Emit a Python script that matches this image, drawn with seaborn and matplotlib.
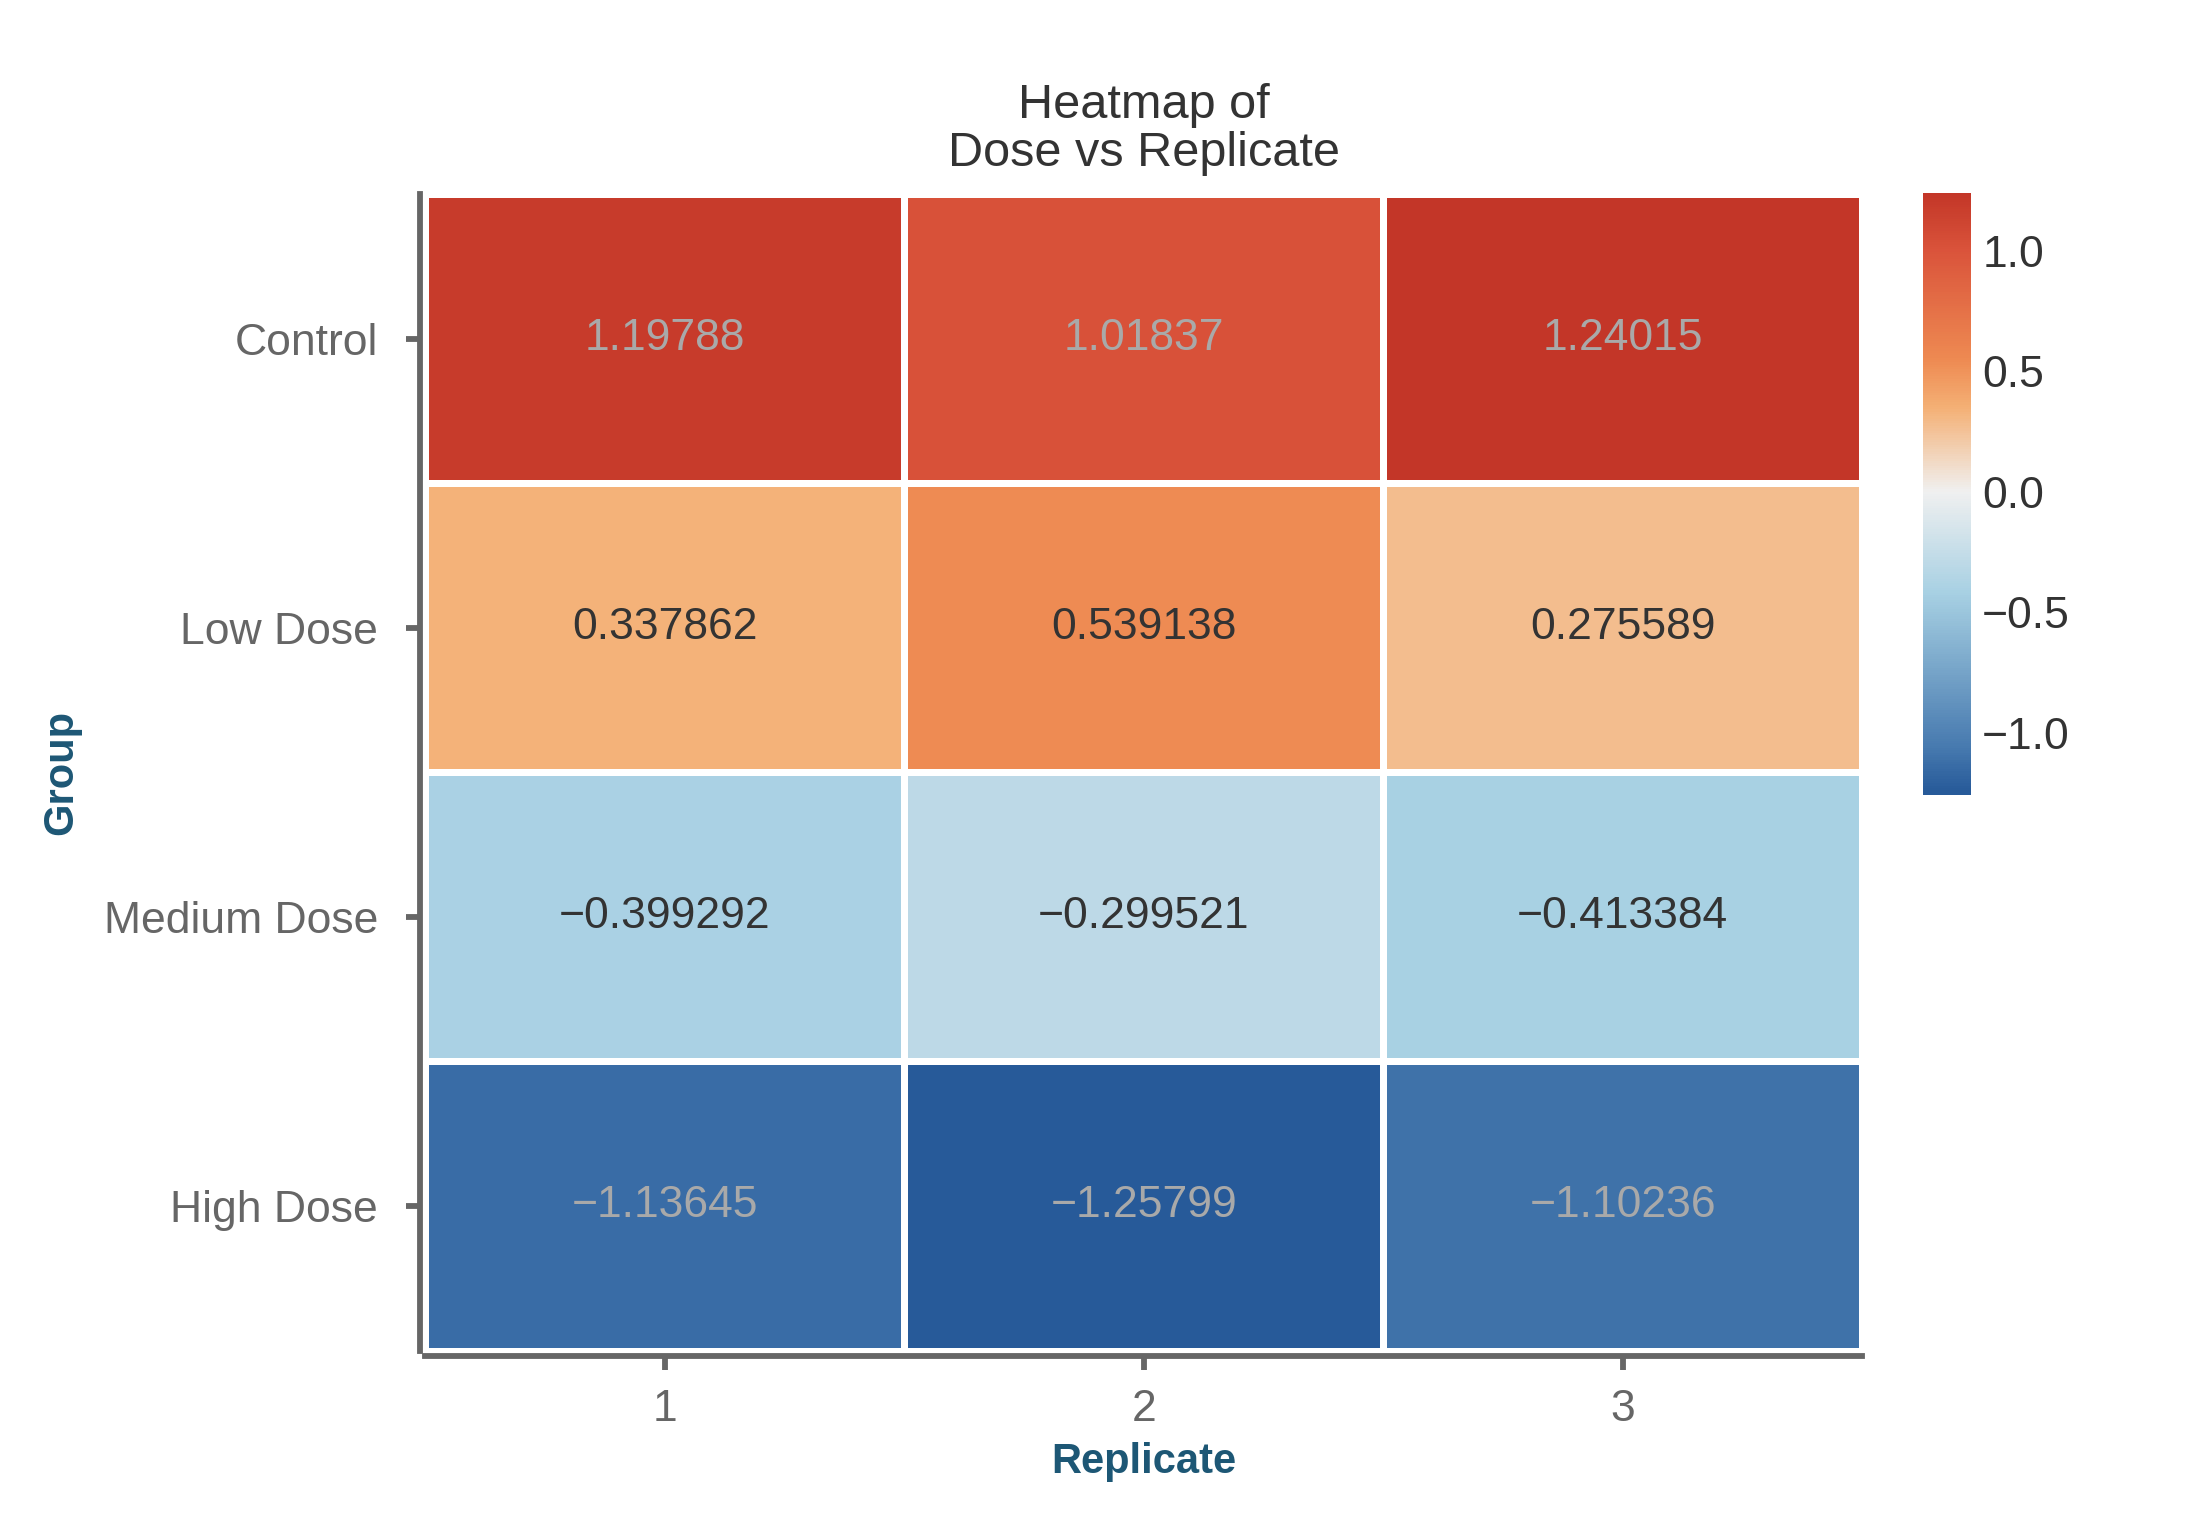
import matplotlib
matplotlib.use("Agg")
import matplotlib.pyplot as plt
from matplotlib.colors import LinearSegmentedColormap
import seaborn as sns
import pandas as pd

# data
groups = ["Control", "Low Dose", "Medium Dose", "High Dose"]
replicates = [1, 2, 3]
control = [1.19788, 1.01837, 1.24015]
low_dose = [0.337862, 0.539138, 0.275589]
medium_dose = [-0.399292, -0.299521, -0.413384]
high_dose = [-1.13645, -1.25799, -1.10236]

sns.set_theme(style="ticks")
plt.rcParams["font.family"] = ["Liberation Sans", "DejaVu Sans"]

df = pd.DataFrame(
    [control, low_dose, medium_dose, high_dose],
    index=pd.Index(groups, name="Group"),
    columns=pd.Index(replicates, name="Replicate"),
)

cmap = LinearSegmentedColormap.from_list("dose", [
    (0.0, "#275a99"), (0.07, "#4578ae"), (0.33, "#a7d0e3"),
    (0.5, "#f0f0f0"), (0.64, "#f4b075"), (0.72, "#ee8a52"),
    (0.9, "#da543b"), (1.0, "#c23527"),
])

fig = plt.figure(figsize=(10.96, 7.69), dpi=200)
ax = fig.add_axes([0.1941, 0.1219, 0.6554, 0.752])
cax = fig.add_axes([0.8773, 0.4831, 0.0219, 0.3914])

sns.heatmap(df, ax=ax, cbar_ax=cax, cmap=cmap, center=0, annot=True, fmt="g",
            linewidths=2.5, linecolor="white", annot_kws={"size": 16})

# annotation colours: light grey on saturated cells, dark otherwise
vals = df.values.ravel()
for txt, v in zip(ax.texts, vals):
    txt.set_text(txt.get_text().replace("-", "\u2212"))
    txt.set_color("#a9a9a9" if abs(v) > 0.8 else "#333333")

for side in ["left", "bottom"]:
    ax.spines[side].set_visible(True)
    ax.spines[side].set_position(("outward", 2))
    ax.spines[side].set_color("#666666")
    ax.spines[side].set_linewidth(2.1)
ax.tick_params(left=True, bottom=True, length=5, width=2.1, color="#666666",
               labelcolor="#666666", labelsize=16)
ax.tick_params(axis="y", pad=10, rotation=0)
ax.tick_params(axis="x", pad=7)

ax.set_xlabel("Replicate", fontsize=15, fontweight="bold", color="#1d5775", labelpad=4)
ax.set_ylabel("Group", fontsize=15, fontweight="bold", color="#1d5775", labelpad=8)
ax.set_title("Heatmap of\nDose vs Replicate", fontsize=17.5, color="#333333",
             pad=10, linespacing=1.1)

cax.tick_params(length=0, labelsize=16, labelcolor="#333333", pad=4)
for s in cax.spines.values():
    s.set_visible(False)

fig.savefig("out.png", dpi=200)
plt.close(fig)
